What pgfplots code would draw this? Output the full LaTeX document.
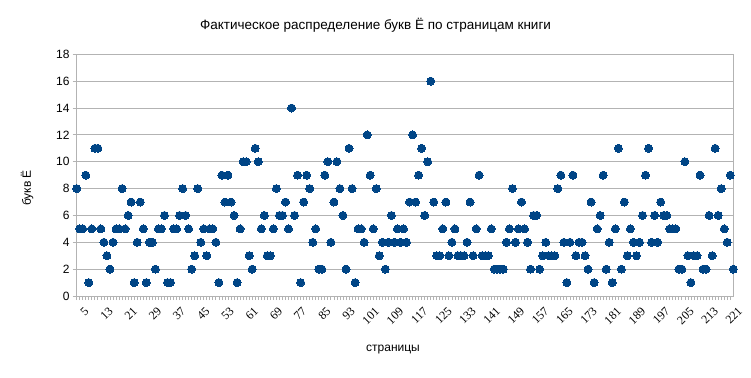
\documentclass[border=0pt]{standalone}
\usepackage{fontspec}
\setmainfont{Liberation Sans}
\newfontfamily\xserif{Liberation Serif}
\usepackage{pgfplots}
\pgfplotsset{compat=1.18}
\usepackage{pgfplotstable}
\definecolor{dotblue}{HTML}{004586}
\definecolor{gridgray}{HTML}{B3B3B3}

\pgfplotstableread{
x y
5 8
6 5
7 5
8 9
9 1
10 5
11 11
12 11
13 5
14 4
15 3
16 2
17 4
18 5
19 5
20 8
21 5
22 6
23 7
24 1
25 4
26 7
27 5
28 1
29 4
30 4
31 2
32 5
33 5
34 6
35 1
36 1
37 5
38 5
39 6
40 8
41 6
42 5
43 2
44 3
45 8
46 4
47 5
48 3
49 5
50 5
51 4
52 1
53 9
54 7
55 9
56 7
57 6
58 1
59 5
60 10
61 10
62 3
63 2
64 11
65 10
66 5
67 6
68 3
69 3
70 5
71 8
72 6
73 6
74 7
75 5
76 14
77 6
78 9
79 1
80 7
81 9
82 8
83 4
84 5
85 2
86 2
87 9
88 10
89 4
90 7
91 10
92 8
93 6
94 2
95 11
96 8
97 1
98 5
99 5
100 4
101 12
102 9
103 5
104 8
105 3
106 4
107 2
108 4
109 6
110 4
111 5
112 4
113 5
114 4
115 7
116 12
117 7
118 9
119 11
120 6
121 10
122 16
123 7
124 3
125 3
126 5
127 7
128 3
129 4
130 5
131 3
132 3
133 3
134 4
135 7
136 3
137 5
138 9
139 3
140 3
141 3
142 5
143 2
144 2
145 2
146 2
147 4
148 5
149 8
150 4
151 5
152 7
153 5
154 4
155 2
156 6
157 6
158 2
159 3
160 4
161 3
162 3
163 3
164 8
165 9
166 4
167 1
168 4
169 9
170 3
171 4
172 4
173 3
174 2
175 7
176 1
177 5
178 6
179 9
180 2
181 4
182 1
183 5
184 11
185 2
186 7
187 3
188 5
189 4
190 3
191 4
192 6
193 9
194 11
195 4
196 6
197 4
198 7
199 6
200 6
201 5
202 5
203 5
204 2
205 2
206 10
207 3
208 1
209 3
210 3
211 9
212 2
213 2
214 6
215 3
216 11
217 6
218 8
219 5
220 4
221 9
222 2
}\pagedata

\begin{document}
\begin{tikzpicture}[x=1bp,y=1bp]
\path[use as bounding box] (0,0) rectangle (751,377);
\begin{axis}[
  at={(76.7bp,81bp)}, anchor=south west,
  scale only axis, width=656.6bp, height=241.7bp,
  xmin=5, xmax=222, ymin=0, ymax=18,
  ytick={0,2,...,18},
  xtick={5,13,...,221},
  minor x tick num=7,
  tick pos=left,
  tick align=outside,
  major tick length=4bp, minor tick length=4bp,
  tick style={gridgray, line width=0.8bp},
  minor tick style={gridgray, line width=0.8bp},
  axis line style={gridgray, line width=0.8bp},
  ymajorgrids, grid style={gridgray, line width=0.8bp},
  /pgf/number format/assume math mode=true,
  yticklabel style={font=\fontsize{12bp}{14bp}\selectfont, inner sep=1bp, xshift=-2bp},
  xticklabel style={font=\xserif\fontsize{12bp}{13bp}\selectfont, rotate=45, anchor=north east, inner sep=0.5bp, yshift=-9bp, xshift=1bp},
  clip=false,
]
\addplot[only marks, mark=*, mark size=4bp, mark options={fill=dotblue, draw=dotblue, line width=0pt}] table[x=x,y=y] {\pagedata};
\end{axis}
\node[font=\fontsize{13.5bp}{16bp}\selectfont] at (375.5,352) {Фактическое распределение букв Ё по страницам книги};
\node[font=\fontsize{12bp}{14bp}\selectfont, rotate=90] at (27,189) {букв Ё};
\node[font=\fontsize{12bp}{14bp}\selectfont] at (393,27) {страницы};
\end{tikzpicture}
\end{document}
